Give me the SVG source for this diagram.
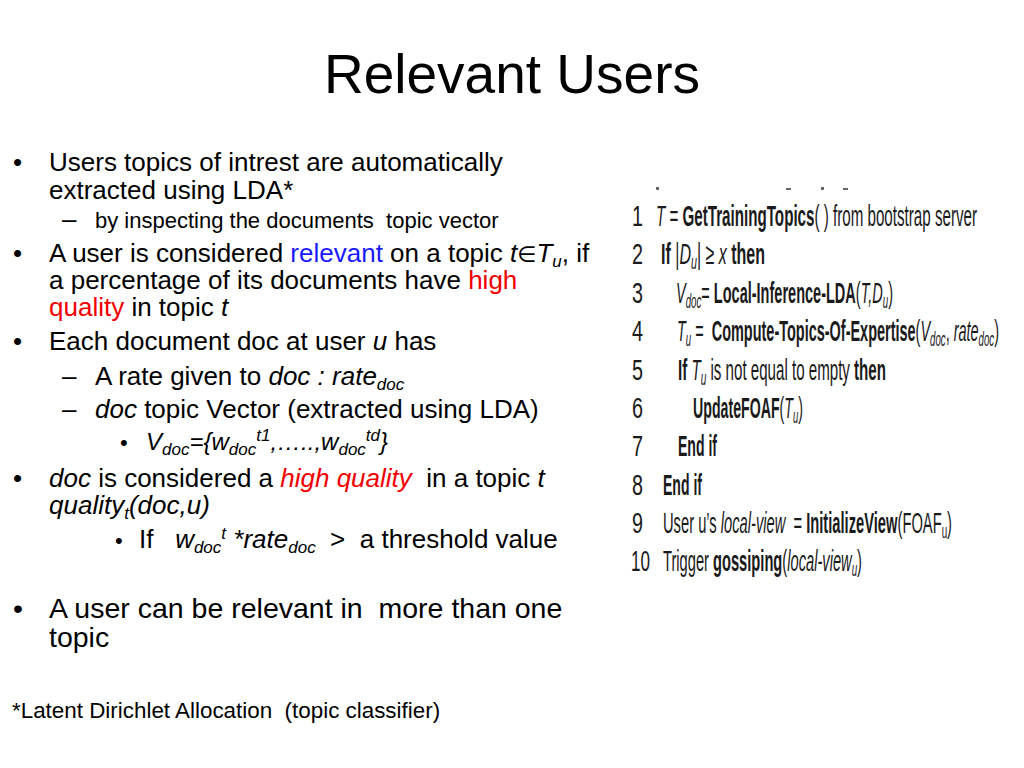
<svg xmlns="http://www.w3.org/2000/svg" width="1024" height="768" viewBox="0 0 1024 768">
<style>
text{font-family:"Liberation Sans","DejaVu Sans",sans-serif;fill:#000;white-space:pre}
.title{font-size:55px}
.l1{font-size:26px}
.l1b{font-size:28.5px}
.l2{font-size:22px}
.fn{font-size:22.4px}
.i{font-style:italic}
.b{font-weight:bold}
.red{fill:#f00000}
.blue{fill:#1a1aff}
.alg{font-size:30px;fill:#1a1a1a}
.dig{font-size:30px;fill:#1a1a1a}
</style>
<rect width="1024" height="768" fill="#fff"/>
<g id="title"><text class="title" x="512" y="93" text-anchor="middle">Relevant Users</text></g>

<g id="left-text">
<text class="l1" x="13" y="171">•</text>
<text class="l1" x="49" y="171">Users topics of intrest are automatically</text>
<text class="l1" x="49" y="199">extracted using LDA*</text>
<text class="l1" x="62" y="228">–</text>
<text class="l2" x="95" y="228">by inspecting the documents  topic vector</text>

<text class="l1" x="13" y="262">•</text>
<text class="l1" x="49" y="262">A user is considered <tspan class="blue">relevant</tspan> on a topic <tspan class="i">t</tspan><tspan font-family="DejaVu Sans" font-size="22">∈</tspan><tspan class="i">T</tspan><tspan class="i" font-size="17" dy="5">u</tspan><tspan dy="-5">, if</tspan></text>
<text class="l1" x="49" y="289">a percentage of its documents have <tspan class="red">high</tspan></text>
<text class="l1" x="49" y="316"><tspan class="red">quality</tspan> in topic <tspan class="i">t</tspan></text>

<text class="l1" x="13" y="350">•</text>
<text class="l1" x="49" y="350">Each document doc at user <tspan class="i">u</tspan> has</text>
<text class="l1" x="62" y="385">–</text>
<text class="l1" x="95" y="385">A rate given to <tspan class="i">doc : rate</tspan><tspan class="i" font-size="17" dy="5">doc</tspan></text>
<text class="l1" x="62" y="418">–</text>
<text class="l1" x="95" y="418"><tspan class="i">doc</tspan> topic Vector (extracted using LDA)</text>
<text class="l2" x="120" y="450">•</text>
<text class="i" font-size="24" x="146" y="450">V<tspan font-size="17" dy="5">doc</tspan><tspan dy="-5">={w</tspan><tspan font-size="17" dy="5">doc</tspan><tspan font-size="17" dy="-14">t1</tspan><tspan dy="9">,…..,w</tspan><tspan font-size="17" dy="5">doc</tspan><tspan font-size="17" dy="-14">td</tspan><tspan dy="9">}</tspan></text>

<text class="l1" x="13" y="487">•</text>
<text class="l1" x="49" y="487"><tspan class="i">doc</tspan> is considered a <tspan class="red i">high quality</tspan>  in a topic <tspan class="i">t</tspan></text>
<text class="l1 i" x="49" y="514">quality<tspan font-size="17" dy="5">t</tspan><tspan dy="-5">(doc,u)</tspan></text>
<text class="l2" x="115" y="548">•</text>
<text class="l1" x="139" y="548">If   <tspan class="i">w</tspan><tspan class="i" font-size="17" dy="5">doc</tspan><tspan class="i" font-size="17" dy="-14">t</tspan><tspan class="i" dy="9"> *rate</tspan><tspan class="i" font-size="17" dy="5">doc</tspan><tspan dy="-5">  &gt;  a threshold value</tspan></text>

<text class="l1b" x="13" y="618">•</text>
<text class="l1b" x="49" y="618">A user can be relevant in  more than one</text>
<text class="l1b" x="49" y="647">topic</text>

<text class="fn" x="12" y="718">*Latent Dirichlet Allocation  (topic classifier)</text>
</g>

<g id="algorithm">
<rect x="656" y="187" width="3" height="3" fill="#666"/>
<rect x="786" y="188" width="5" height="2" fill="#666"/>
<rect x="821" y="187" width="3" height="3" fill="#666"/>
<rect x="843" y="188" width="5" height="2" fill="#666"/>

<g class="digits">
<text class="dig" transform="translate(632,226) scale(0.5,1)" x="0" y="0" textLength="22" lengthAdjust="spacingAndGlyphs">1</text>
<text class="dig" transform="translate(632,264) scale(0.5,1)" x="0" y="0" textLength="22" lengthAdjust="spacingAndGlyphs">2</text>
<text class="dig" transform="translate(632,303) scale(0.5,1)" x="0" y="0" textLength="22" lengthAdjust="spacingAndGlyphs">3</text>
<text class="dig" transform="translate(632,341) scale(0.5,1)" x="0" y="0" textLength="22" lengthAdjust="spacingAndGlyphs">4</text>
<text class="dig" transform="translate(632,380) scale(0.5,1)" x="0" y="0" textLength="22" lengthAdjust="spacingAndGlyphs">5</text>
<text class="dig" transform="translate(632,418) scale(0.5,1)" x="0" y="0" textLength="22" lengthAdjust="spacingAndGlyphs">6</text>
<text class="dig" transform="translate(632,456) scale(0.5,1)" x="0" y="0" textLength="22" lengthAdjust="spacingAndGlyphs">7</text>
<text class="dig" transform="translate(632,495) scale(0.5,1)" x="0" y="0" textLength="22" lengthAdjust="spacingAndGlyphs">8</text>
<text class="dig" transform="translate(632,533) scale(0.5,1)" x="0" y="0" textLength="22" lengthAdjust="spacingAndGlyphs">9</text>
<text class="dig" transform="translate(631,571) scale(0.5,1)" x="0" y="0" textLength="38" lengthAdjust="spacingAndGlyphs">10</text>
</g>

<text class="alg" transform="translate(656,226) scale(0.5,1)" x="0" y="0" textLength="642" lengthAdjust="spacingAndGlyphs"><tspan class="i">T</tspan> = <tspan class="b">GetTrainingTopics</tspan>( ) from bootstrap server</text>
<text class="alg" transform="translate(661,264) scale(0.5,1)" x="0" y="0" textLength="208" lengthAdjust="spacingAndGlyphs"><tspan class="b">If</tspan> |<tspan class="i">D</tspan><tspan class="i" font-size="20" dy="5">u</tspan><tspan dy="-5">| ≥ </tspan><tspan class="i">x</tspan><tspan class="b"> then</tspan></text>
<text class="alg" transform="translate(676,303) scale(0.5,1)" x="0" y="0" textLength="434" lengthAdjust="spacingAndGlyphs"><tspan class="i">V</tspan><tspan class="i" font-size="20" dy="5">doc</tspan><tspan dy="-5">= </tspan><tspan class="b">Local-Inference-LDA</tspan>(<tspan class="i">T,D</tspan><tspan class="i" font-size="20" dy="5">u</tspan><tspan dy="-5">)</tspan></text>
<text class="alg" transform="translate(677,341) scale(0.5,1)" x="0" y="0" textLength="644" lengthAdjust="spacingAndGlyphs"><tspan class="i">T</tspan><tspan class="i" font-size="20" dy="5">u</tspan><tspan dy="-5"> =  </tspan><tspan class="b">Compute-Topics-Of-Expertise</tspan>(<tspan class="i">V</tspan><tspan class="i" font-size="20" dy="5">doc</tspan><tspan dy="-5">, </tspan><tspan class="i">rate</tspan><tspan class="i" font-size="20" dy="5">doc</tspan><tspan dy="-5">)</tspan></text>
<text class="alg" transform="translate(678,380) scale(0.5,1)" x="0" y="0" textLength="416" lengthAdjust="spacingAndGlyphs"><tspan class="b">If</tspan> <tspan class="i">T</tspan><tspan class="i" font-size="20" dy="5">u</tspan><tspan dy="-5"> is not equal to empty </tspan><tspan class="b">then</tspan></text>
<text class="alg" transform="translate(693,418) scale(0.5,1)" x="0" y="0" textLength="220" lengthAdjust="spacingAndGlyphs"><tspan class="b">UpdateFOAF</tspan>(<tspan class="i">T</tspan><tspan class="i" font-size="20" dy="5">u</tspan><tspan dy="-5">)</tspan></text>
<text class="alg b" transform="translate(678,456) scale(0.5,1)" x="0" y="0" textLength="78" lengthAdjust="spacingAndGlyphs">End if</text>
<text class="alg b" transform="translate(663,495) scale(0.5,1)" x="0" y="0" textLength="78" lengthAdjust="spacingAndGlyphs">End if</text>
<text class="alg" transform="translate(663,533) scale(0.5,1)" x="0" y="0" textLength="578" lengthAdjust="spacingAndGlyphs">User u’s <tspan class="i">local-view</tspan>  = <tspan class="b">InitializeView</tspan>(FOAF<tspan font-size="20" dy="5">u</tspan><tspan dy="-5">)</tspan></text>
<text class="alg" transform="translate(663,571) scale(0.5,1)" x="0" y="0" textLength="398" lengthAdjust="spacingAndGlyphs">Trigger <tspan class="b">gossiping</tspan>(<tspan class="i">local-view</tspan><tspan class="i" font-size="20" dy="5">u</tspan><tspan dy="-5">)</tspan></text>
</g>
</svg>
